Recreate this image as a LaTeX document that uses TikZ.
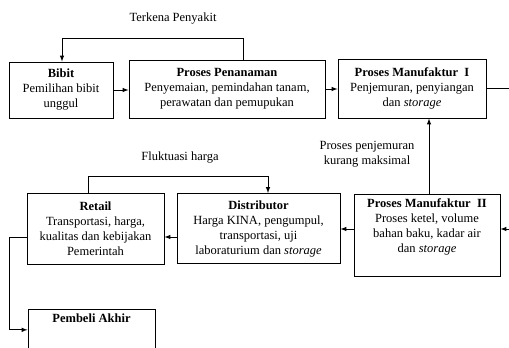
\documentclass[tikz,border=0pt]{standalone}
\usepackage{fontspec}
\setmainfont{Liberation Serif}
\usepackage{tikz}
\tikzstyle{box}=[rectangle, draw, line width=1pt, align=center, inner sep=4pt, font=\fontsize{12.5}{15}\selectfont]
\tikzstyle{note}=[align=center, font=\fontsize{12.5}{15}\selectfont]
\tikzstyle{link}=[line width=1pt, >=latex]

\begin{document}
\begin{tikzpicture}[x=1pt, y=-1pt]
                    \clip (0,0) rectangle (509,348);
                    \node[box, minimum width=104, minimum height=56] (bibit) at (61, 90)
                        {\textbf{Bibit}\\Pemilihan bibit\\unggul};
                    \node[box, minimum width=196, minimum height=58] (tanam) at (227, 89)
                        {\textbf{Proses Penanaman}\\Penyemaian, pemindahan tanam,\\perawatan dan pemupukan};
                    \node[box, minimum width=148, minimum height=59] (mfk1) at (412, 88.5)
                        {\textbf{Proses Manufaktur\ \ I}\\Penjemuran, penyiangan\\dan \textit{storage}};
                    \node[box, minimum width=146, anchor=north, text depth=20pt] (mfk2) at (427, 194)
                        {\textbf{Proses Manufaktur\ \ II}\\Proses ketel, volume\\bahan baku, kadar air\\dan \textit{storage}};
                    \node[box, minimum width=163, minimum height=70] (distr) at (258.5, 228.5)
                        {\textbf{Distributor}\\Harga KINA, pengumpul,\\transportasi, uji\\laboraturium dan \textit{storage}};
                    \node[box, minimum width=137, minimum height=71] (retail) at (95.5, 228.5)
                        {\textbf{Retail}\\Transportasi, harga,\\kualitas dan kebijakan\\Pemerintah};
                    \node[box, minimum width=127, anchor=north, text depth=44pt] (akhir) at (91.5, 309)
                        {\textbf{Pembeli Akhir}};
                    \node[note] (penyakit) at (173, 19) {Terkena Penyakit};
                    \node[note] (jemur) at (367, 154) {Proses penjemuran\\kurang maksimal};
                    \node[note] (harga) at (180, 158) {Fluktuasi harga};
                    \coordinate (keluar) at (509, 88.5);
                    \coordinate (masuk) at (509, 229);
                    \draw[link, ->] (bibit.east) -- (bibit.east -| tanam.west);
                    \draw[link, ->] (tanam.east) -- (tanam.east -| mfk1.west);
                    \draw[link, ->] ([xshift=16pt]tanam.north) -- ++(0,-21) -| ([xshift=1pt]bibit.north);
                    \draw[link] (mfk1.east) -- (keluar);
                    \draw[link, ->] ([xshift=2pt]mfk2.north) -- ([xshift=2pt]mfk2.north |- mfk1.south);
                    \draw[link, ->] (masuk) -- (masuk -| mfk2.east);
                    \draw[link, ->] (masuk -| mfk2.west) -- (masuk -| distr.east);
                    \draw[link, ->] ([yshift=-8.5pt]distr.west) -- ([yshift=-8.5pt]distr.west -| retail.east);
                    \draw[link, ->] ([xshift=-7.5pt]retail.north) -- ++(0,-16) -| ([xshift=9.5pt]distr.north);
                    \draw[link, ->] ([yshift=-8.5pt]retail.west) -- ++(-17,0) |- ([yshift=10pt]akhir.west);
                \end{tikzpicture}
\end{document}
